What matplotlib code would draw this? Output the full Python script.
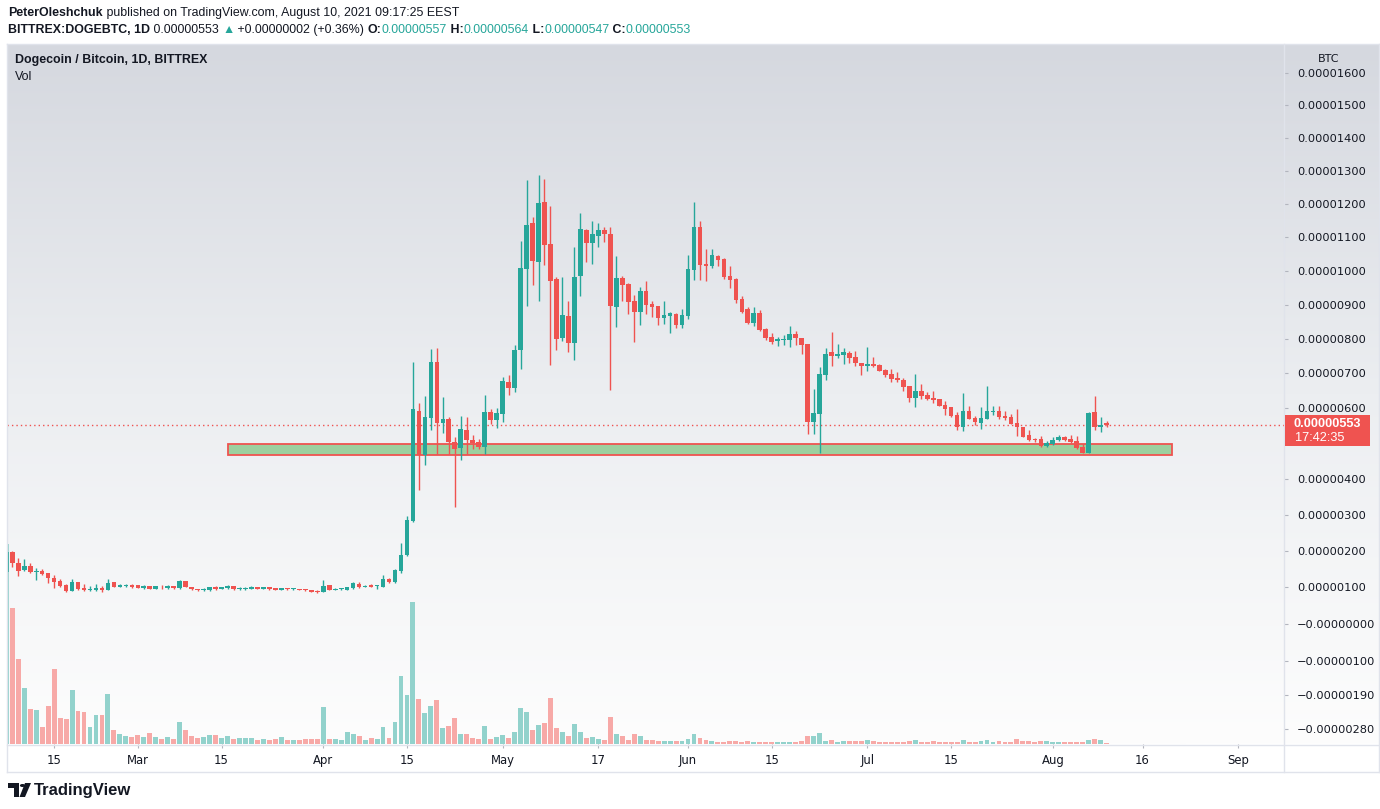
import numpy as np
import pandas as pd
import matplotlib
matplotlib.use("Agg")
import matplotlib.pyplot as plt
import matplotlib.dates as mdates
from matplotlib import font_manager
from matplotlib.patches import Rectangle, Polygon, Circle
from matplotlib.colors import LinearSegmentedColormap
from matplotlib.lines import Line2D

# ---------------- data (prices in satoshi = 1e-8 BTC) ----------------
start_date = "2021-02-07"
opens = [141, 197, 165, 146, 157, 141, 143, 138, 124, 116, 105, 89, 114, 97, 92, 92, 97, 93, 114, 101,
         103, 106, 105, 97, 103, 95, 101, 97, 103, 97, 116, 100, 95, 93, 92, 100, 95, 97, 103, 95,
         96, 95, 100, 95, 100, 97, 92, 97, 94, 95, 94, 92, 90, 87, 105, 93, 94, 92, 97, 108,
         101, 105, 102, 100, 122, 114, 143, 187, 283, 591, 468, 571, 734, 557, 569, 503, 486, 537, 509, 503,
         491, 589, 566, 583, 674, 657, 769, 1006, 1142, 1027, 1206, 1079, 976, 803, 868, 789, 985, 1121, 1082, 1103,
         1121, 1109, 894, 979, 962, 912, 879, 941, 903, 897, 862, 868, 874, 841, 868, 1003, 1130, 1021, 1015, 1045,
         1036, 985, 976, 918, 888, 847, 876, 829, 806, 794, 797, 797, 815, 803, 786, 560, 583, 694, 763, 751,
         754, 760, 746, 731, 720, 726, 724, 709, 697, 686, 682, 663, 629, 649, 637, 629, 626, 609, 603, 580,
         546, 591, 571, 558, 569, 589, 591, 577, 574, 557, 546, 523, 512, 511, 492, 498, 509, 517, 511, 506,
         489, 472, 589, 547, 557]
highs = [228, 198, 181, 178, 165, 151, 149, 139, 132, 122, 108, 122, 115, 108, 103, 108, 103, 122, 115, 108,
         108, 108, 106, 105, 104, 104, 105, 105, 104, 119, 117, 101, 96, 97, 101, 103, 101, 105, 104, 100,
         100, 103, 101, 101, 101, 98, 98, 98, 97, 96, 95, 93, 92, 119, 106, 97, 98, 101, 114, 114,
         105, 108, 105, 132, 124, 149, 222, 297, 734, 614, 634, 771, 774, 631, 574, 517, 577, 574, 523, 511,
         637, 597, 600, 689, 694, 783, 1088, 1273, 1161, 1288, 1276, 1194, 980, 982, 912, 1070, 1173, 1124, 1148, 1142,
         1130, 1130, 1045, 985, 965, 929, 953, 971, 912, 897, 912, 879, 876, 888, 1048, 1206, 1148, 1064, 1064, 1048,
         1039, 1015, 978, 924, 894, 894, 885, 832, 818, 806, 812, 838, 824, 803, 786, 654, 717, 774, 821, 786,
         774, 766, 766, 731, 777, 746, 727, 712, 714, 703, 686, 663, 697, 669, 646, 649, 626, 620, 603, 589,
         643, 606, 577, 603, 663, 606, 606, 591, 583, 597, 547, 538, 515, 522, 507, 517, 523, 520, 523, 520,
         498, 589, 634, 574, 564]
lows = [138, 155, 131, 144, 139, 119, 134, 112, 98, 101, 87, 89, 92, 89, 89, 90, 87, 92, 100, 100,
        101, 98, 97, 95, 94, 94, 95, 95, 96, 95, 99, 92, 90, 89, 89, 92, 94, 96, 92, 92,
        92, 94, 94, 94, 92, 91, 91, 92, 92, 91, 90, 86, 84, 86, 91, 92, 92, 91, 96, 97,
        100, 99, 95, 99, 111, 111, 140, 184, 278, 369, 440, 537, 471, 529, 469, 322, 454, 471, 483, 483,
        469, 554, 543, 560, 637, 646, 714, 897, 959, 912, 1018, 723, 769, 794, 763, 740, 924, 1027, 1021, 1070,
        1085, 651, 835, 912, 874, 791, 841, 874, 865, 841, 844, 818, 832, 832, 859, 974, 974, 971, 1009, 1015,
        976, 950, 906, 876, 844, 838, 824, 797, 786, 780, 783, 777, 783, 757, 526, 526, 474, 680, 720, 743,
        726, 731, 720, 694, 706, 717, 706, 689, 675, 675, 649, 618, 604, 627, 624, 615, 606, 581, 575, 538,
        535, 569, 552, 541, 569, 581, 569, 567, 555, 521, 517, 507, 504, 489, 491, 495, 507, 507, 501, 484,
        472, 472, 538, 532, 547]
closes = [197, 166, 144, 157, 141, 143, 136, 125, 114, 104, 89, 114, 95, 92, 94, 97, 92, 111, 101, 105,
          105, 101, 98, 103, 95, 103, 99, 103, 97, 116, 100, 95, 92, 95, 100, 95, 100, 103, 95, 97,
          98, 100, 95, 100, 95, 92, 97, 95, 95, 92, 91, 87, 87, 103, 92, 95, 96, 100, 111, 100,
          103, 100, 104, 122, 114, 146, 189, 286, 597, 468, 574, 734, 557, 569, 503, 483, 540, 509, 500, 491,
          589, 566, 586, 677, 657, 769, 1009, 1136, 1030, 1203, 1076, 971, 800, 871, 789, 982, 1124, 1082, 1109, 1121,
          1109, 897, 979, 959, 909, 879, 941, 900, 894, 862, 871, 876, 841, 871, 1006, 1130, 1018, 1015, 1048, 1033,
          982, 974, 915, 879, 847, 876, 826, 803, 791, 800, 800, 815, 803, 783, 560, 586, 697, 757, 749, 757,
          763, 743, 729, 720, 726, 720, 707, 695, 684, 681, 661, 629, 649, 635, 627, 623, 607, 598, 578, 546,
          591, 569, 560, 571, 591, 592, 575, 572, 555, 547, 518, 509, 509, 492, 500, 509, 517, 509, 504, 487,
          472, 586, 547, 551, 553]
volumes = [200, 136, 85, 56, 35, 34, 17, 38, 75, 26, 25, 54, 33, 32, 17, 29, 29, 50, 14, 10,
           8, 7, 9, 7, 11, 7, 5, 7, 5, 22, 14, 8, 6, 7, 9, 9, 6, 8, 5, 6,
           6, 6, 4, 5, 4, 5, 7, 3.7, 3.7, 3.7, 5, 5, 5, 37, 5, 5, 4, 12, 10, 8,
           4, 6, 5, 17, 6, 22, 68, 49, 142, 45, 31, 38, 44, 16, 18, 26, 10, 10, 6, 5,
           18, 5, 7, 9, 6, 12, 36, 32, 14, 19, 21, 46, 16, 12, 8, 20, 12, 6, 7, 5,
           4, 27, 10, 8, 4, 10, 8, 4, 4, 3, 3, 3, 3, 3, 5, 10, 6, 4, 3, 2,
           2, 3, 3, 2, 3, 2, 2, 2, 2, 2, 2, 2, 2, 3, 8, 8, 11, 3, 4, 2,
           3, 3, 3, 3, 4, 3, 2, 2, 2, 2, 2, 3, 4, 2, 2, 3, 2, 2, 2, 2,
           4, 2, 2, 3, 4, 2, 3, 2, 2, 5, 3, 3, 2, 3, 3, 2, 2, 2, 2, 2,
           2, 4, 5, 4, 1]

price_ticks = [1600, 1500, 1400, 1300, 1200, 1100, 1000, 900, 800, 700, 600,
               400, 300, 200, 100, 0, -100, -190, -280]
time_tick_dates = ["2021-02-15", "2021-03-01", "2021-03-15", "2021-04-01", "2021-04-15",
                   "2021-05-01", "2021-05-17", "2021-06-01", "2021-06-15", "2021-07-01",
                   "2021-07-15", "2021-08-01", "2021-08-16", "2021-09-01"]
time_tick_labels = ["15", "Mar", "15", "Apr", "15", "May", "17", "Jun", "15", "Jul",
                    "15", "Aug", "16", "Sep"]

zone_start = "2021-03-16"
zone_end = "2021-08-21"
zone_low = 466
zone_high = 498
last_price = 553
countdown = "17:42:35"

# ---------------- style ----------------
UP = "#26a69a"
DOWN = "#ef5350"
UP_VOL = "#92d2cc"
DOWN_VOL = "#f7a9a7"
TXT = "#131722"
BORDER = "#e0e3eb"

names = {f.name for f in font_manager.fontManager.ttflist}
NARROW = "Liberation Sans Narrow" if "Liberation Sans Narrow" in names else "Liberation Sans"
narrow_size = 9.8 if NARROW == "Liberation Sans Narrow" else 8.9

W, H = 1380, 809
fig = plt.figure(figsize=(W / 100, H / 100), dpi=100)
fig.patch.set_facecolor("white")


def fx(px):
    return px / W


def fy(py):
    return 1 - py / H


# background gradient (pane + price scale)
bg = fig.add_axes([fx(7), fy(744), fx(1379) - fx(7), fy(44) - fy(744)], zorder=0)
cmap = LinearSegmentedColormap.from_list("g", ["#fdfdfd", "#eceef1", "#d5d8df"])
grad = np.linspace(0, 1, 256).reshape(-1, 1)
bg.imshow(grad, aspect="auto", cmap=cmap, origin="lower", extent=[0, 1, 0, 1])
bg.set_axis_off()

# price scale function (TradingView-like compressed log)
OFF = 10614.0


def fwd(v):
    v = np.asarray(v, dtype=float)
    return np.log(np.clip(v + OFF, 1e-9, None))


def inv(y):
    return np.exp(np.asarray(y, dtype=float)) - OFF


ax = fig.add_axes([fx(7), fy(744), fx(1284) - fx(7), fy(44) - fy(744)], zorder=3)
axv = ax.twinx()
axv.set_zorder(2)
ax.set_zorder(3)
ax.patch.set_visible(False)
axv.patch.set_visible(False)

dates = pd.date_range(start_date, periods=len(opens), freq="D")
x = mdates.date2num(dates.to_pydatetime())
o = np.array(opens, float)
h = np.array(highs, float)
l = np.array(lows, float)
c = np.array(closes, float)
up = c >= o
cols = np.where(up, UP, DOWN)

ax.set_yscale("function", functions=(fwd, inv))
ax.set_ylim(-320, 1691)
ax.set_xlim(x[0] + 0.12, x[0] + 213.66)

# zone
zs = mdates.date2num(pd.Timestamp(zone_start))
ze = mdates.date2num(pd.Timestamp(zone_end))
ax.add_patch(Rectangle((zs, zone_low), ze - zs, zone_high - zone_low,
                       facecolor="#9dd09f", edgecolor=DOWN, lw=1.3, zorder=1))

# wicks + bodies
ax.vlines(x, l, h, colors=cols, lw=1.0, zorder=3)
body_bot = np.minimum(o, c)
body_h = np.maximum(np.abs(c - o), 2.5)
ax.bar(x, body_h, bottom=body_bot, width=0.78, color=cols, lw=0, zorder=4)

# last price dotted line
ax.axhline(last_price, color=DOWN, ls=(0, (1, 2.2)), lw=1.0, zorder=2)

# volume
vcols = np.where(up, UP_VOL, DOWN_VOL)
axv.bar(x, volumes, width=0.82, color=vcols, lw=0)
axv.set_ylim(0, 700)
axv.set_xlim(ax.get_xlim())
axv.set_axis_off()

# axes ticks
for s in ax.spines.values():
    s.set_visible(False)
ax.yaxis.tick_right()
ax.set_yticks(price_ticks)


def pfmt(v, pos=None):
    if v <= 0:
        return "\u2212" + f"{abs(v) / 1e8:.8f}"
    return f"{v / 1e8:.8f}"


ax.set_yticklabels([pfmt(v) for v in price_ticks])
ax.yaxis.set_minor_locator(matplotlib.ticker.NullLocator())
ax.tick_params(axis="y", which="major", direction="out", length=3, width=0.8,
               color="#b2b5be", labelsize=8.2, labelcolor=TXT, pad=6.5)
for lab in ax.get_yticklabels():
    lab.set_family("DejaVu Sans")

ax.set_xticks(mdates.date2num(pd.to_datetime(time_tick_dates).to_pydatetime()))
ax.set_xticklabels(time_tick_labels)
ax.tick_params(axis="x", direction="out", length=3, width=0.8, color="#b2b5be",
               labelsize=8.4, labelcolor=TXT, pad=4)

# borders
def hline(y, x0, x1, col=BORDER, lw=1.0):
    fig.add_artist(Line2D([fx(x0), fx(x1)], [fy(y), fy(y)], color=col, lw=lw, zorder=5))


def vline(xp, y0, y1, col=BORDER, lw=1.0):
    fig.add_artist(Line2D([fx(xp), fx(xp)], [fy(y0), fy(y1)], color=col, lw=lw, zorder=5))


hline(44, 7, 1379)
hline(744.5, 7, 1379)
hline(772, 7, 1379)
vline(7, 44, 772)
vline(1284, 44, 772)
vline(1379, 44, 772)

# BTC label
fig.text(fx(1329), fy(59), "BTC", ha="center", va="center", fontsize=8.0,
         color=TXT, family="DejaVu Sans")

# last price box
fig.canvas.draw()
ydisp = ax.transData.transform((x[0] + 1, last_price))[1]
ypx = H - ydisp
fig.add_artist(Rectangle((fx(1285), fy(ypx + 21)), fx(1370) - fx(1285), 31 / H,
                         facecolor=DOWN, edgecolor="none", zorder=6))
fig.text(fx(1294), fy(ypx - 1), pfmt(last_price), ha="left", va="center", fontsize=9.2,
         color="white", fontweight="bold", family="Liberation Sans", zorder=7)
fig.text(fx(1295), fy(ypx + 13), countdown, ha="left", va="center", fontsize=9.2,
         color="white", family="Liberation Sans", zorder=7)

# rich header text
renderer = fig.canvas.get_renderer()


def rich(x_px, y_px, parts, size):
    xx = x_px
    for s, col, wt in parts:
        t = fig.text(fx(xx), fy(y_px), s, color=col, fontsize=size, fontweight=wt,
                     ha="left", va="center", family=NARROW)
        bb = t.get_window_extent(renderer=renderer)
        xx += bb.width


rich(8, 13, [("PeterOleshchuk", TXT, "bold"),
             (" published on TradingView.com, August 10, 2021 09:17:25 EEST", TXT, "normal")],
     narrow_size)
rich(8, 30, [("BITTREX:DOGEBTC, 1D", TXT, "bold"),
             (" 0.00000553 ", TXT, "normal"),
             ("\u25b2", UP, "normal"),
             (" +0.00000002 (+0.36%) ", TXT, "normal"),
             ("O:", TXT, "bold"), ("0.00000557", UP, "normal"),
             (" H:", TXT, "bold"), ("0.00000564", UP, "normal"),
             (" L:", TXT, "bold"), ("0.00000547", UP, "normal"),
             (" C:", TXT, "bold"), ("0.00000553", UP, "normal")],
     narrow_size)

# pane legend
fig.text(fx(15), fy(60), "Dogecoin / Bitcoin, 1D, BITTREX", ha="left", va="center",
         fontsize=narrow_size, fontweight="bold", color=TXT, family=NARROW, zorder=6)
fig.text(fx(15), fy(77), "Vol", ha="left", va="center",
         fontsize=narrow_size, color=TXT, family=NARROW, zorder=6)

# TradingView logo
fig.add_artist(Polygon([[fx(8), fy(783)], [fx(19), fy(783)], [fx(19), fy(797)],
                        [fx(14), fy(797)], [fx(14), fy(788)], [fx(8), fy(788)]],
                       closed=True, facecolor=TXT, edgecolor="none"))
fig.add_artist(Circle((fx(22.5), fy(785.5)), 2.6 / W, facecolor=TXT, edgecolor="none",
                      transform=fig.transFigure))
fig.add_artist(Polygon([[fx(25), fy(783)], [fx(31), fy(783)], [fx(25), fy(797)], [fx(19.5), fy(797)]],
                       closed=True, facecolor=TXT, edgecolor="none"))
fig.text(fx(34), fy(790), "TradingView", ha="left", va="center", fontsize=12,
         fontweight="bold", color=TXT, family=NARROW)

fig.savefig("out.png", dpi=100, facecolor="white")
